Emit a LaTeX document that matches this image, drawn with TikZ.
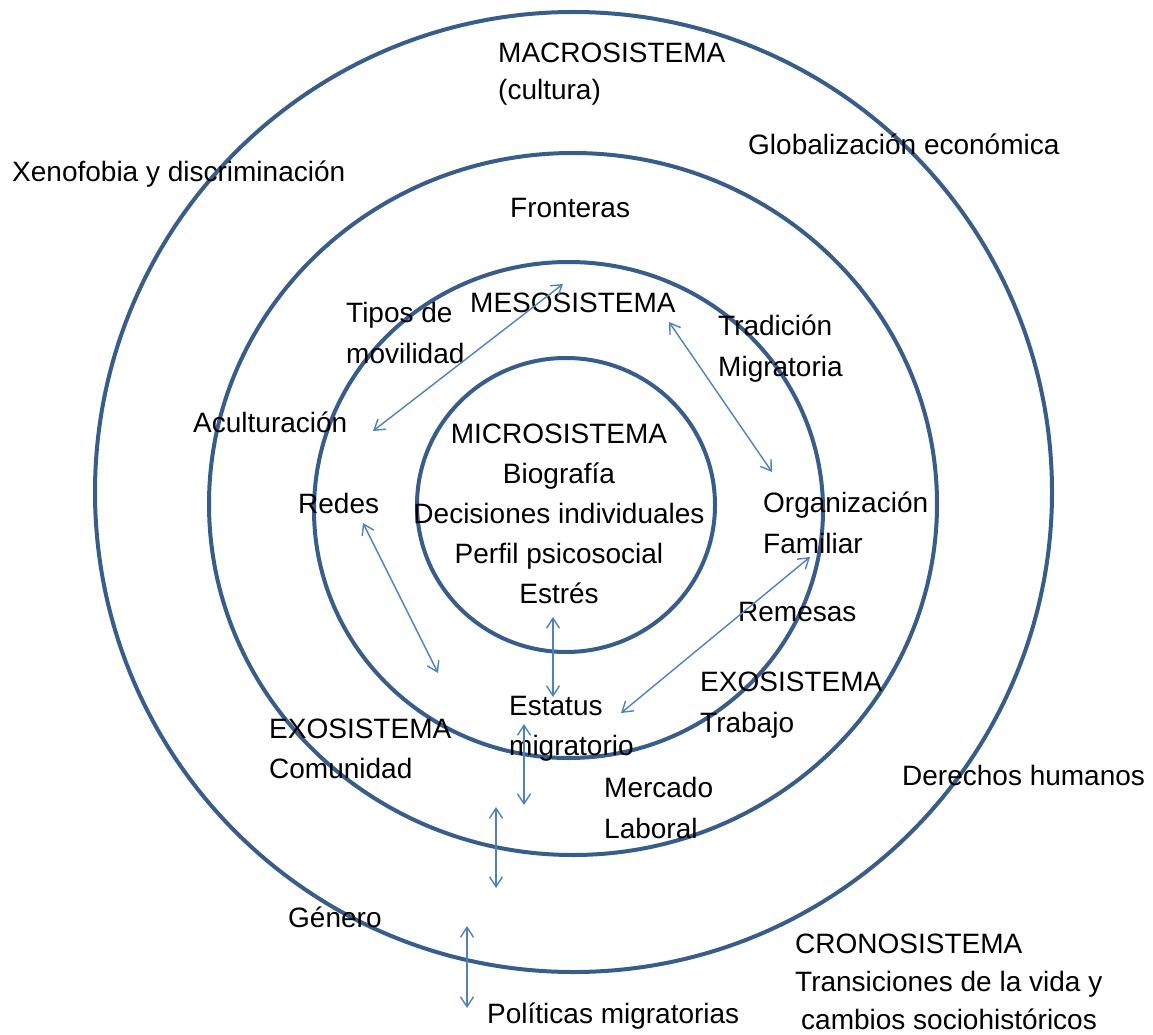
\documentclass[tikz,border=0pt]{standalone}
\usepackage{fontspec}
\setmainfont{Liberation Sans}
\usetikzlibrary{arrows.meta}
\definecolor{ringblue}{RGB}{56,93,138}
\definecolor{linkblue}{RGB}{79,129,189}
\begin{document}
\begin{tikzpicture}[x=1pt,y=-1pt,
  ring/.style={draw=ringblue,line width=4pt},
  % multi-line labels are placed by the baseline of their last line
  lbl/.style={inner sep=0pt,anchor=base west,align=left,
    font=\fontsize{28}{40}\selectfont},
  link/.style={draw=linkblue,line width=1.4pt,
    {Straight Barb[length=10pt,width=13pt]}-{Straight Barb[length=10pt,width=13pt]}}]
\useasboundingbox (0,0) rectangle (1153,1035);

% nested systems
\draw[ring] (573.5,492) ellipse [x radius=478.5pt, y radius=480pt];
\draw[ring] (573,504) ellipse [x radius=364pt, y radius=351pt];
\draw[ring] (568.5,510) ellipse [x radius=254.5pt, y radius=248pt];
\draw[ring] (566,505) ellipse [x radius=149pt, y radius=147pt];

% labels
\node[lbl,font=\fontsize{28}{37}\selectfont] (macro) at (498,100) {MACROSISTEMA\\(cultura)};
\node[lbl] (xeno) at (12,182) {Xenofobia y discriminación};
\node[lbl] (glob) at (748,155) {Globalización económica};
\node[lbl] (front) at (510,217) {Fronteras};
\node[lbl] (meso) at (470,312) {MESOSISTEMA};
\node[lbl,font=\fontsize{28}{41}\selectfont] (tipos) at (346,363) {Tipos de\\movilidad};
\node[lbl,font=\fontsize{28}{41}\selectfont] (trad) at (718,376) {Tradición\\Migratoria};
\node[lbl] (acult) at (193,432) {Aculturación};
\node[lbl] (redes) at (298,513) {Redes};
\node[lbl,anchor=base,align=center] (micro) at (559,603)
  {MICROSISTEMA\\Biografía\\Decisiones individuales\\Perfil psicosocial\\Estrés};
\node[lbl,font=\fontsize{28}{41}\selectfont] (org) at (763,553) {Organización\\Familiar};
\node[lbl] (remesas) at (738,621) {Remesas};
\node[lbl,font=\fontsize{28}{41}\selectfont] (exoR) at (700,732) {EXOSISTEMA\\Trabajo};
\node[lbl] (estatus) at (509,755) {Estatus\\migratorio};
\node[lbl] (exoL) at (269,778) {EXOSISTEMA\\Comunidad};
\node[lbl,font=\fontsize{28}{41}\selectfont] (mercado) at (604,838) {Mercado\\Laboral};
\node[lbl] (derechos) at (902,785) {Derechos humanos};
\node[lbl] (genero) at (288,927) {Género};
\node[lbl,font=\fontsize{28}{38}\selectfont] (crono) at (795,1029)
  {CRONOSISTEMA\\Transiciones de la vida y\\\hspace*{6pt}cambios sociohistóricos};
\node[lbl] (politicas) at (487,1023) {Políticas migratorias};

% ends of the two-way links
\coordinate (tiposA) at (563,284);
\coordinate (tiposB) at (373,431);
\coordinate (tradA) at (669,322);
\coordinate (tradB) at (772,472);
\coordinate (redesA) at (363,523);
\coordinate (redesB) at (438,673);
\coordinate (estresA) at (553,617);
\coordinate (estresB) at (553,697);
\coordinate (remA) at (810,557);
\coordinate (remB) at (621,713);
\coordinate (estA) at (524,724);
\coordinate (estB) at (524,805);
\coordinate (mercA) at (496,807);
\coordinate (mercB) at (496,888);
\coordinate (polA) at (467,926);
\coordinate (polB) at (467,1008);

\draw[link] (tiposA) -- (tiposB);
\draw[link] (tradA) -- (tradB);
\draw[link] (redesA) -- (redesB);
\draw[link] (estresA) -- (estresB);
\draw[link] (remA) -- (remB);
\draw[link] (estA) -- (estB);
\draw[link] (mercA) -- (mercB);
\draw[link] (polA) -- (polB);
\end{tikzpicture}
\end{document}
